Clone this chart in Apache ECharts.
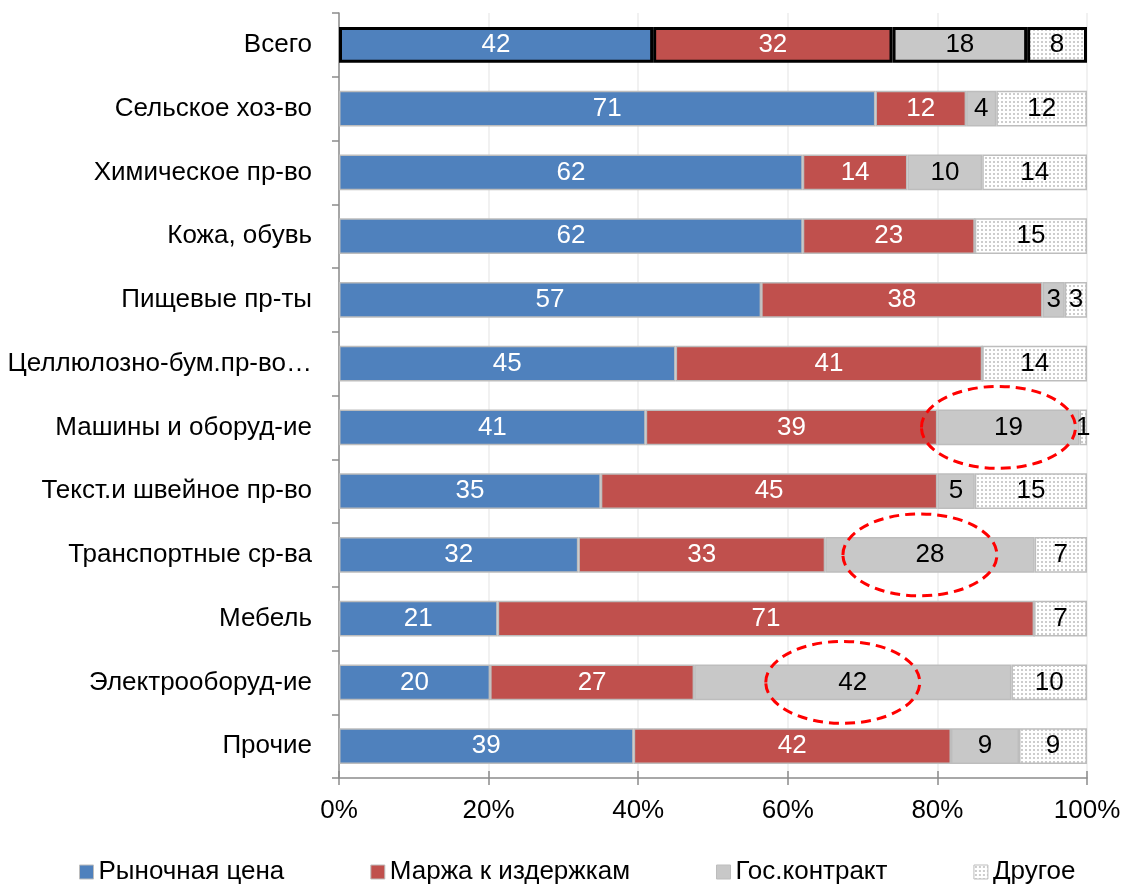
<!DOCTYPE html>
<html>
<head>
<meta charset="utf-8">
<script src="https://cdn.jsdelivr.net/npm/echarts@6/dist/echarts.min.js"></script>
<style>
html,body{margin:0;padding:0;background:#fff;}
#chart{width:1126px;height:890px;}
</style>
</head>
<body>
<div id="chart"></div>
<script>
const categories = ['Всего','Сельское хоз-во','Химическое пр-во','Кожа, обувь','Пищевые пр-ты','Целлюлозно-бум.пр-во…','Машины и оборуд-ие','Текст.и швейное пр-во','Транспортные ср-ва','Мебель','Электрооборуд-ие','Прочие'];
const seriesNames = ['Рыночная цена','Маржа к издержкам','Гос.контракт','Другое'];
const marketPrice = [42,71,62,62,57,45,41,35,32,21,20,39];
const costMargin  = [32,12,14,23,38,41,39,45,33,71,27,42];
const govContract = [18,4,10,0,3,0,19,5,28,0,42,9];
const otherVals   = [8,12,14,15,3,14,1,15,7,7,10,9];
const xTicks = ['0%','20%','40%','60%','80%','100%'];
const highlightedRows = ['Машины и оборуд-ие','Транспортные ср-ва','Электрооборуд-ие'];

const FONT = '"Liberation Sans", Arial, sans-serif';

// dotted pattern for "Другое"
const pc = document.createElement('canvas');
pc.width = 4; pc.height = 4;
const pctx = pc.getContext('2d');
pctx.fillStyle = '#ffffff'; pctx.fillRect(0,0,4,4);
pctx.fillStyle = '#cdcdcd';
pctx.fillRect(1,1,2,2);

const fills = ['#4f81bd','#c0504d','#c8c8c8',{image: pc, repeat: 'repeat'}];
const labelColors = ['#ffffff','#ffffff','#000000','#000000'];
const raw = [marketPrice, costMargin, govContract, otherVals];
const totals = categories.map((c,i)=>raw.reduce((s,a)=>s+a[i],0));

const series = raw.map((arr, si) => ({
  name: seriesNames[si],
  type: 'bar',
  stack: 'all',
  barWidth: '56%',
  itemStyle: {color: fills[si], borderColor: '#bdbdbd', borderWidth: 1.5},
  label: {
    show: true, position: 'inside', color: labelColors[si],
    fontFamily: FONT, fontSize: 26,
    formatter: p => p.data.raw ? String(p.data.raw) : ''
  },
  emphasis: {disabled: true},
  data: arr.map((v,i) => {
    const d = {value: v / totals[i] * 100, raw: v};
    if (i === 0) d.itemStyle = {borderColor: '#000000', borderWidth: 3};
    return d;
  })
}));

const chart = echarts.init(document.getElementById('chart'), null, {renderer: 'canvas'});
chart.setOption({
  animation: false,
  backgroundColor: '#ffffff',
  grid: {left: 339, right: 39, top: 13, bottom: 112},
  legend: {
    bottom: 0, left: 74,
    itemWidth: 14, itemHeight: 14, itemGap: 86,
    icon: 'rect',
    itemStyle: {borderColor: '#bdbdbd', borderWidth: 1},
    textStyle: {fontFamily: FONT, fontSize: 26, color: '#000'},
    data: seriesNames
  },
  xAxis: [{
    type: 'value', min: 0, max: 100, interval: 20,
    axisLine: {show: true, lineStyle: {color: '#8c8c8c', width: 1.5}},
    axisTick: {show: true, length: 7, lineStyle: {color: '#8c8c8c', width: 1.5}},
    splitLine: {show: true, lineStyle: {color: '#ececec', width: 1.5}},
    axisLabel: {fontFamily: FONT, fontSize: 26, color: '#000', margin: 20,
      formatter: v => xTicks[Math.round(v/20)]}
  },{
    type: 'value', min: 0, max: 100, interval: 20, position: 'bottom',
    axisLine: {show: false},
    axisTick: {show: true, inside: true, length: 7, lineStyle: {color: '#8c8c8c', width: 1.5}},
    splitLine: {show: false}, axisLabel: {show: false}
  }],
  yAxis: {
    type: 'category', data: categories, inverse: true,
    axisLine: {show: true, lineStyle: {color: '#8c8c8c', width: 1.5}},
    axisTick: {show: true, length: 7, lineStyle: {color: '#8c8c8c', width: 1.5}},
    axisLabel: {fontFamily: FONT, fontSize: 26, color: '#000', margin: 27}
  },
  series: series
});

// red dashed ellipses around the "Гос.контракт" segments of highlighted rows
const graphics = highlightedRows.map(name => {
  const i = categories.indexOf(name);
  const start = (marketPrice[i] + costMargin[i]) / totals[i] * 100;
  const mid = start + govContract[i] / totals[i] * 50;
  const pt = chart.convertToPixel({gridIndex: 0}, [mid, i]);
  return {
    type: 'ellipse', z: 100,
    shape: {cx: pt[0] - 10, cy: pt[1], rx: 77, ry: 41},
    style: {fill: null, stroke: '#ff0000', lineWidth: 3, lineDash: [10, 6]}
  };
});
chart.setOption({graphic: graphics});
</script>
</body>
</html>
